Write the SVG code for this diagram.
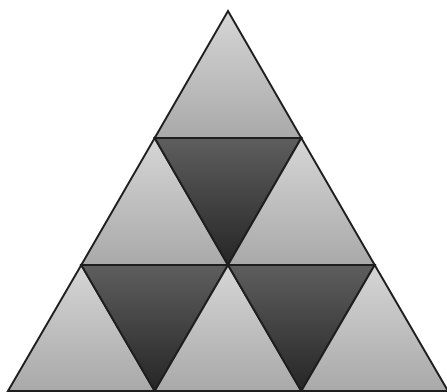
<svg xmlns="http://www.w3.org/2000/svg" width="447" height="392" viewBox="0 0 447 392">
<defs>
<linearGradient id="lg" x1="0" y1="0" x2="0" y2="1"><stop offset="0" stop-color="#d6d6d6"/><stop offset="1" stop-color="#a9a9a9"/></linearGradient>
<linearGradient id="dg" x1="0" y1="0" x2="0" y2="1"><stop offset="0" stop-color="#5e5e5e"/><stop offset="1" stop-color="#262626"/></linearGradient>
</defs>
<style>
.l{fill:url(#lg);stroke:#1e1e1e;stroke-width:2;stroke-linejoin:miter}
.d{fill:url(#dg);stroke:#1e1e1e;stroke-width:2;stroke-linejoin:miter}
</style>
<rect width="447" height="392" fill="#fff"/>
<g id="t1"><polygon class="l" points="228,11 301.3,138 154.7,138"/></g>
<g id="t2"><polygon class="l" points="154.7,138 228,265 81.3,265"/></g>
<g id="t3"><polygon class="d" points="154.7,138 301.3,138 228,265"/></g>
<g id="t4"><polygon class="l" points="301.3,138 374.7,265 228,265"/></g>
<g id="t5"><polygon class="l" points="81.3,265 154.7,391 8,391"/></g>
<g id="t6"><polygon class="d" points="81.3,265 228,265 154.7,391"/></g>
<g id="t7"><polygon class="l" points="228,265 301.3,391 154.7,391"/></g>
<g id="t8"><polygon class="d" points="228,265 374.7,265 301.3,391"/></g>
<g id="t9"><polygon class="l" points="374.7,265 448,391 301.3,391"/></g>
<g id="connectors"></g>
</svg>
